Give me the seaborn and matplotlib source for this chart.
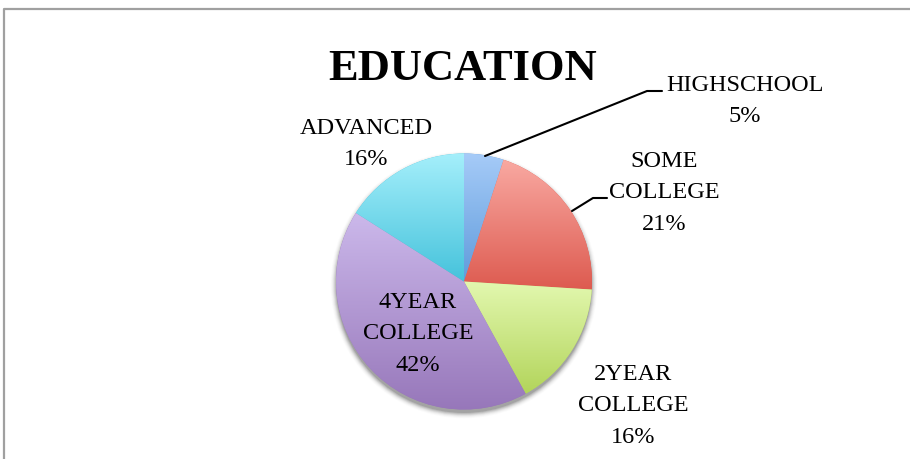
import numpy as np
import matplotlib
matplotlib.use("Agg")
import matplotlib.pyplot as plt
import seaborn as sns
from matplotlib.colors import to_rgb

categories = ["HIGHSCHOOL", "SOME COLLEGE", "2YEAR COLLEGE", "4YEAR COLLEGE", "ADVANCED"]
values = [5, 21, 16, 42, 16]
top_colors = ["#a6cbf8", "#f9a9a2", "#e3f8b0", "#ccb9eb", "#a5effb"]
bottom_colors = ["#5f9bdb", "#dd5a4f", "#b2d45a", "#9777ba", "#44c2db"]
title = "EDUCATION"

sns.set_theme(style="white")
plt.rcParams["font.family"] = ["Liberation Serif", "DejaVu Serif"]

W, H = 910, 460
fig = plt.figure(figsize=(W / 100, H / 100), dpi=100)
ax = fig.add_axes([0, 0, 1, 1])
ax.set_xlim(0, W)
ax.set_ylim(0, H)
ax.set_aspect("equal")
ax.axis("off")

cx, cy, R = 464, H - 282.5, 128

# soft shadow
for k, a in zip(range(7), [0.12, 0.09, 0.07, 0.05, 0.035, 0.025, 0.015]):
    ax.add_patch(plt.Circle((cx, cy - 3.5), R + k * 0.9, color="black", alpha=a, lw=0, zorder=0))

wedges, _ = ax.pie(values, startangle=90, counterclock=False, radius=R, center=(cx, cy),
                   colors=bottom_colors, wedgeprops=dict(linewidth=0), frame=True)
ax.set_xlim(0, W)
ax.set_ylim(0, H)
ax.axis("off")

for w, tc, bc in zip(wedges, top_colors, bottom_colors):
    th = np.linspace(np.radians(w.theta1), np.radians(w.theta2), 200)
    ys = np.concatenate([cy + R * np.sin(th), [cy]])
    xs = np.concatenate([cx + R * np.cos(th), [cx]])
    y0, y1 = ys.min(), ys.max()
    n = 256
    t = np.linspace(0, 1, n)[:, None]
    c0, c1 = np.array(to_rgb(tc)), np.array(to_rgb(bc))
    grad = (c0[None, :] * (1 - t) + c1[None, :] * t)[:, None, :]
    im = ax.imshow(grad, extent=(xs.min() - 1, xs.max() + 1, y0 - 1, y1 + 1),
                   origin="upper", aspect="auto", zorder=2, interpolation="bilinear")
    im.set_clip_path(w)
ax.set_xlim(0, W)
ax.set_ylim(0, H)

# frame
ax.plot([4, 4, W], [0, H - 10, H - 10], color="#a0a0a0", lw=1.6, zorder=5, clip_on=False)

# title
ax.text(463, H - 69, title, ha="center", va="center", fontsize=32, fontweight="bold", color="black")

label_pos = [(745, 101), (664, 193), (633, 406), (418, 334), (366, 144)]
for cat, v, (lx, ly) in zip(categories, values, label_pos):
    txt = (cat.replace(" ", "\n") if cat != "HIGHSCHOOL" else cat) + f"\n{v}%"
    ax.text(lx, H - ly, txt, ha="center", va="center", fontsize=17.5, linespacing=1.68,
            color="black", zorder=6)

# leader lines
ax.plot([485, 647, 662], [H - 157, H - 92, H - 92], color="black", lw=1.5, zorder=6)
ax.plot([572, 593, 607], [H - 212, H - 199, H - 199], color="black", lw=1.5, zorder=6)

fig.savefig("out.png", dpi=100, facecolor="white")
